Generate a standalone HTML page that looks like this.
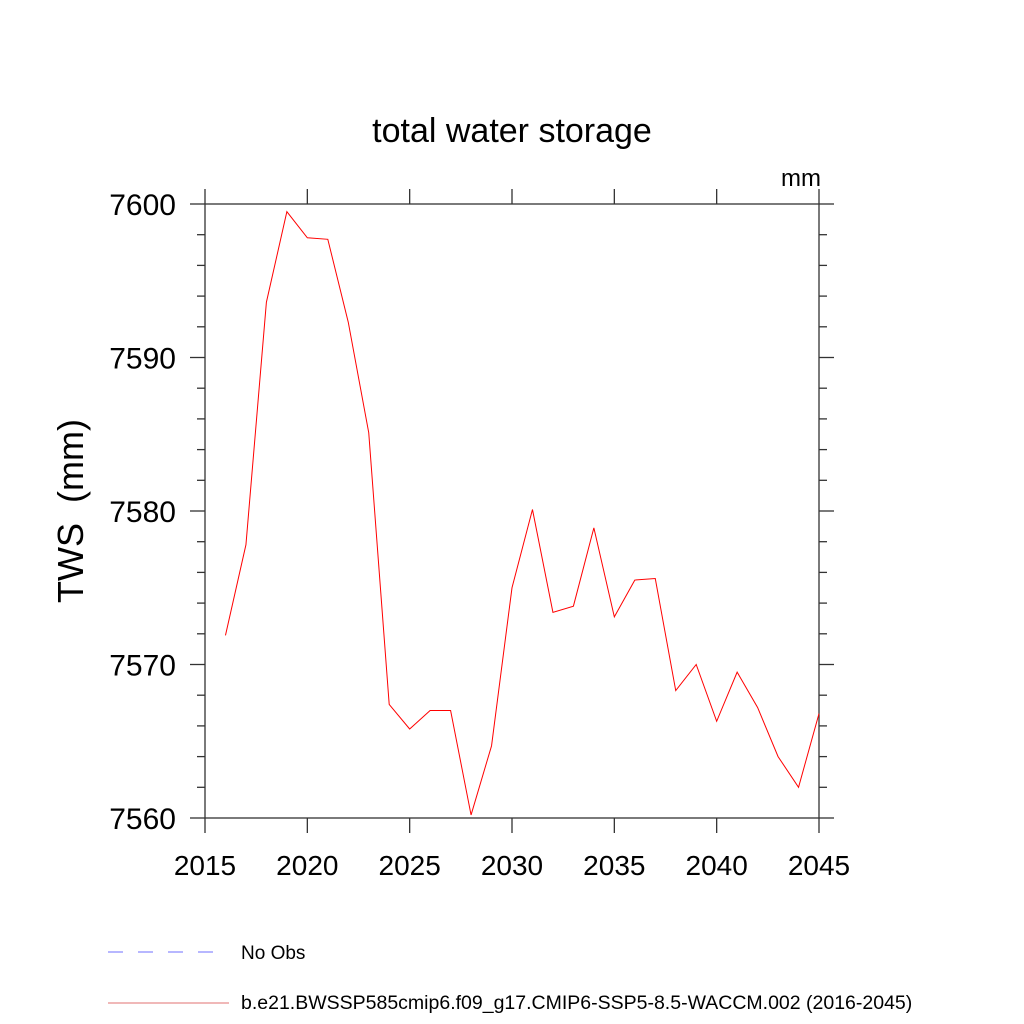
<!DOCTYPE html>
<html><head><meta charset="utf-8"><style>body{margin:0;background:#fff}svg{display:block;font-family:"Liberation Sans",sans-serif}</style></head>
<body>
<svg id="c" width="1024" height="1024">
<text x="512" y="142" font-size="34" text-anchor="middle">total water storage</text>
<text x="821" y="186" font-size="24" text-anchor="end">mm</text>
<text transform="translate(83,511) rotate(-90)" font-size="36" text-anchor="middle">TWS&#160; (mm)</text>
<g id="axes"></g>
<g id="plot"></g>
<g>
<line x1="108" y1="952" x2="216" y2="952" stroke="#6f6fff" stroke-width="1" stroke-dasharray="15,15"/>
<text x="241" y="959" font-size="19">No Obs</text>
<line x1="108" y1="1003" x2="229" y2="1003" stroke="#e07070" stroke-width="1"/>
<text x="241" y="1009" font-size="19.5">b.e21.BWSSP585cmip6.f09_g17.CMIP6-SSP5-8.5-WACCM.002 (2016-2045)</text>
</g>
</svg>
<script>
const years=[2016,2017,2018,2019,2020,2021,2022,2023,2024,2025,2026,2027,2028,2029,2030,2031,2032,2033,2034,2035,2036,2037,2038,2039,2040,2041,2042,2043,2044,2045];
const tws=[7571.9,7577.8,7593.6,7599.5,7597.8,7597.7,7592.3,7585.1,7567.4,7565.8,7567.0,7567.0,7560.2,7564.7,7575.0,7580.1,7573.4,7573.8,7578.9,7573.1,7575.5,7575.6,7568.3,7570.0,7566.3,7569.5,7567.2,7564.0,7562.0,7566.8];
const xTicks=[2015,2020,2025,2030,2035,2040,2045];
const yTicks=[7560,7570,7580,7590,7600];
const x0=205,x1=819,y0=204,y1=818;
const xs=v=>x0+(v-2015)/30*(x1-x0);
const ys=v=>y1-(v-7560)/40*(y1-y0);
const NS='http://www.w3.org/2000/svg';
const ax=document.getElementById('axes'),pl=document.getElementById('plot');
function ln(g,a,b,c,d,name){const e=document.createElementNS(NS,'line');e.setAttribute('x1',a);e.setAttribute('y1',b);e.setAttribute('x2',c);e.setAttribute('y2',d);e.setAttribute('stroke','#333');e.setAttribute('stroke-width','1.3');


g.appendChild(e);}
const fr=document.createElementNS(NS,'rect');fr.setAttribute('x',x0);fr.setAttribute('y',y0);fr.setAttribute('width',x1-x0);fr.setAttribute('height',y1-y0);fr.setAttribute('fill','none');fr.setAttribute('stroke','#333');fr.setAttribute('stroke-width','1.3');


ax.appendChild(fr);
xTicks.forEach(t=>{const x=xs(t);ln(ax,x,y1,x,y1+15,'x-tick');ln(ax,x,y0,x,y0-15,'x-tick-top');
const e=document.createElementNS(NS,'text');e.setAttribute('x',x);e.setAttribute('y',875);e.setAttribute('font-size','28');e.setAttribute('text-anchor','middle');e.textContent=t;


ax.appendChild(e);});
for(let v=7560;v<=7600;v+=2){const y=ys(v);const major=(v%10===0);const L=major?15:8;ln(ax,x0-L,y,x0,y,major?'y-tick':'y-minor-tick');ln(ax,x1,y,x1+L,y,major?'y-tick-right':'y-minor-tick-right');}
yTicks.forEach(t=>{const e=document.createElementNS(NS,'text');e.setAttribute('x',176);e.setAttribute('y',ys(t)+11);e.setAttribute('font-size','30');e.setAttribute('text-anchor','end');e.textContent=t;


ax.appendChild(e);});
const p=document.createElementNS(NS,'polyline');p.setAttribute('points',years.map((y,i)=>xs(y)+','+ys(tws[i])).join(' '));p.setAttribute('fill','none');p.setAttribute('stroke','#ff0000');p.setAttribute('stroke-width','1');


pl.appendChild(p);
</script>
</body></html>
